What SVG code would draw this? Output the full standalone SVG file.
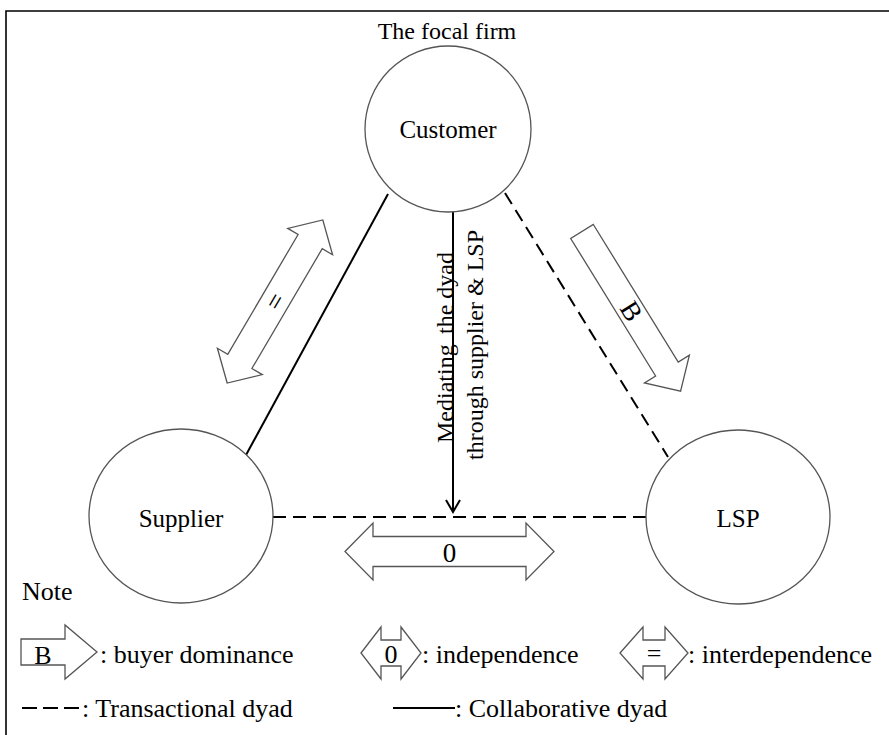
<svg xmlns="http://www.w3.org/2000/svg" width="889" height="735" viewBox="0 0 889 735" font-family="'Liberation Serif', 'Times New Roman', serif">
  <style>
    text { font-family: "Liberation Serif", "Times New Roman", serif; font-size: 24px; fill: #000; }
    .mid { text-anchor: middle; }
    .lbl { font-size: 25px; }
    .key { font-size: 26px; }
    .sym { font-size: 27px; }
    .node { fill: #fff; stroke: #555; stroke-width: 1.3; }
    .block { fill: #fff; stroke: #555; stroke-width: 1.3; stroke-linejoin: miter; }
    .solid { stroke: #000; stroke-width: 2; fill: none; }
    .dash { stroke: #000; stroke-width: 2; fill: none; stroke-dasharray: 13 7; }
    .frame { stroke: #000; stroke-width: 1.6; fill: none; }
  </style>
  <defs>
    <marker id="vhead" markerWidth="16" markerHeight="16" refX="14" refY="8" orient="auto" markerUnits="userSpaceOnUse">
      <path d="M2,1 L14,8 L2,15" fill="none" stroke="#000" stroke-width="2"/>
    </marker>
  </defs>

  <rect width="889" height="735" fill="#fff"/>
  <!-- outer frame (top and left edges) -->
  <path class="frame" d="M6,735 L6,11 L889,11"/>

  <!-- connectors -->
  <g id="connectors">
    <line class="solid" x1="246" y1="455" x2="388" y2="194"/>
    <line class="dash" x1="505" y1="193" x2="668" y2="457"/>
    <line class="dash" x1="273" y1="517" x2="646" y2="517"/>
    <line class="solid" x1="453" y1="212" x2="453" y2="512" marker-end="url(#vhead)"/>
    <text transform="translate(453,443) rotate(-90)">Mediating</text>
    <text transform="translate(453,334) rotate(-90)">the dyad</text>
    <text transform="translate(483,460) rotate(-90)">through supplier &amp; LSP</text>
  </g>

  <!-- relationship arrows -->
  <g id="arrow-interdependence" transform="translate(275,301.5) rotate(-59.6)">
    <path class="block" d="M-94.5,0 L-69.5,-26 L-69.5,-14 L69.5,-14 L69.5,-26 L94.5,0 L69.5,26 L69.5,14 L-69.5,14 L-69.5,26 Z"/>
    <text class="mid sym" x="0" y="9">=</text>
  </g>
  <g id="arrow-dominance" transform="translate(631.3,311.3) rotate(58.3)">
    <path class="block" d="M-93.8,-13.3 L67.8,-13.3 L67.8,-26.4 L93.8,0 L67.8,26.4 L67.8,13.3 L-93.8,13.3 Z"/>
    <text class="mid sym" x="0" y="9">B</text>
  </g>
  <g id="arrow-independence" transform="translate(449.5,551.5)">
    <path class="block" d="M-104.5,0 L-76.5,-28.5 L-76.5,-15 L76.5,-15 L76.5,-28.5 L104.5,0 L76.5,28.5 L76.5,15 L-76.5,15 L-76.5,28.5 Z"/>
    <text class="mid sym" x="0" y="10">0</text>
  </g>

  <!-- nodes -->
  <g id="customer">
    <circle class="node" cx="448" cy="129" r="83"/>
    <text class="mid lbl" x="448" y="138">Customer</text>
    <text class="mid" x="447" y="39">The focal firm</text>
  </g>
  <g id="supplier">
    <ellipse class="node" cx="181" cy="516" rx="92" ry="87"/>
    <text class="mid lbl" x="181" y="527">Supplier</text>
  </g>
  <g id="lsp">
    <ellipse class="node" cx="738" cy="517" rx="92" ry="87"/>
    <text class="mid lbl" x="738" y="527">LSP</text>
  </g>

  <!-- legend -->
  <g id="legend">
    <text class="key" x="22" y="600">Note</text>

    <path class="block" d="M21,639 L65,639 L65,625 L97,652 L65,679 L65,665 L21,665 Z"/>
    <text class="mid key" x="43" y="664">B</text>
    <text class="key" x="100" y="663">: buyer dominance</text>

    <path class="block" d="M361,653 L381,627 L381,640 L401,640 L401,627 L421,653 L401,679 L401,666 L381,666 L381,679 Z"/>
    <text class="mid key" x="391" y="663">0</text>
    <text class="key" x="422" y="663">: independence</text>

    <path class="block" d="M620,653 L643,627 L643,640 L665,640 L665,627 L688,653 L665,679 L665,666 L643,666 L643,679 Z"/>
    <text class="mid key" x="654" y="662">=</text>
    <text class="key" x="688" y="663">: interdependence</text>

    <line x1="22" y1="708" x2="82" y2="708" stroke="#000" stroke-width="2" stroke-dasharray="15 6"/>
    <text class="key" x="82" y="717">: Transactional dyad</text>

    <line x1="393" y1="708" x2="455" y2="708" stroke="#000" stroke-width="2"/>
    <text class="key" x="455" y="717">: Collaborative dyad</text>
  </g>
</svg>
